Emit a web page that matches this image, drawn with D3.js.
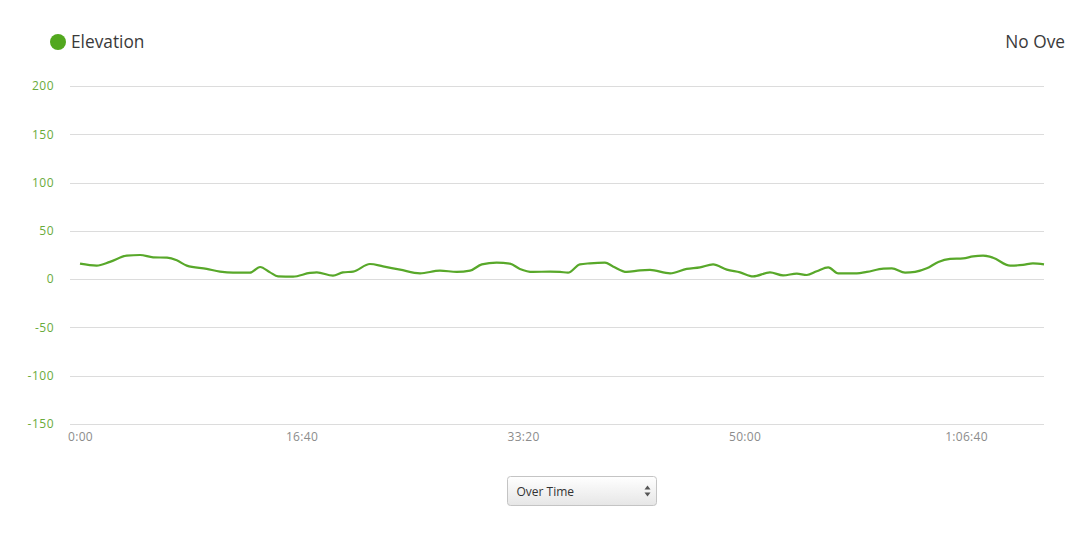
<!DOCTYPE html>
<html>
<head>
<meta charset="utf-8">
<script src="https://cdn.jsdelivr.net/npm/d3@7"></script>
<style>
  html, body { margin: 0; padding: 0; background: #fff; overflow: hidden; }
  svg { display: block; }
</style>
</head>
<body>
<svg id="chart" width="1068" height="545"></svg>
<script>
// ---- data ----
const seriesName = "Elevation";
const overlayLabel = "No Ove";
const dropdownLabel = "Over Time";
// elapsed time (seconds)
const times = [0,75,135,211,271,330,393,437,482,572,632,691,767,813,858,894,962,1038,1069,1142,1187,1233,1309,1368,1445,1535,1625,1701,1761,1814,1881,1941,1986,2045,2122,2167,2203,2257,2302,2370,2406,2468,2528,2573,2664,2739,2799,2858,2920,2980,3039,3115,3174,3236,3281,3326,3378,3423,3507,3552,3627,3665,3725,3770,3823,3875,3928,3987,4032,4077,4122,4199,4257,4302,4352];
// elevation (m)
const elevation = [16.0,14.0,17.9,24.3,25.0,22.6,22.2,19.5,14.0,10.6,7.8,6.7,6.7,12.6,7.0,2.9,2.6,6.4,7.0,3.6,7.0,7.8,15.7,13.2,9.8,6.0,8.8,7.5,8.8,15.3,17.1,16.0,10.6,7.5,7.8,7.5,6.7,15.3,16.4,17.1,13.2,7.5,9.1,9.5,6.0,10.6,12.2,15.3,9.8,7.0,2.9,7.0,3.9,5.7,4.3,8.1,12.2,6.0,6.0,7.5,10.9,11.2,6.7,7.5,11.2,17.8,20.9,21.5,23.6,24.3,22.2,14.0,14.7,16.4,15.3];
const yTicks = [-150,-100,-50,0,50,100,150,200];
const xTicks = [0,1000,2000,3000,4000];
const xTickLabels = ["0:00","16:40","33:20","50:00","1:06:40"];

const data = times.map((t,i)=>({t, v: elevation[i]}));

const svg = d3.select("#chart");
const green = "#58a82a";
const font = "'Open Sans', 'DejaVu Sans', sans-serif";

const gridLeft = 70, gridRight = 1044;
const x = d3.scaleLinear().domain([0, 4352]).range([80, 1044]);
const y = d3.scaleLinear().domain([-150, 200]).range([424, 86]);

// gridlines
svg.append("g").selectAll("line").data(yTicks).join("line")
  .attr("x1", gridLeft).attr("x2", gridRight)
  .attr("y1", d => Math.round(y(d)) + 0.5).attr("y2", d => Math.round(y(d)) + 0.5)
  .attr("stroke", "#dcdcdc").attr("stroke-width", 1);

// y axis labels
const yAxis = d3.axisLeft(y).tickValues(yTicks).tickSize(0).tickPadding(0).tickFormat(d => d);
const gy = svg.append("g").attr("transform", "translate(54,0)").call(yAxis);
gy.select(".domain").remove();
gy.selectAll("text").attr("fill", "#6aab3c").attr("font-size", 12)
  .attr("font-family", font).style("letter-spacing", "0.5px");

// x axis labels
const xAxis = d3.axisBottom(x).tickValues(xTicks).tickSize(0).tickPadding(0)
  .tickFormat((d,i) => xTickLabels[i]);
const gx = svg.append("g").attr("transform", "translate(0,432)").call(xAxis);
gx.select(".domain").remove();
gx.selectAll("text").attr("fill", "#8c8c8c").attr("font-size", 12)
  .attr("font-family", font).style("letter-spacing", "0.3px");

// line
const line = d3.line().x(d => x(d.t)).y(d => y(d.v)).curve(d3.curveMonotoneX);
svg.append("path").datum(data).attr("d", line)
  .attr("fill", "none").attr("stroke", green).attr("stroke-width", 2.2)
  .attr("stroke-linejoin", "round");

// legend
svg.append("circle").attr("cx", 58).attr("cy", 42).attr("r", 8).attr("fill", "#52a81e");
svg.append("text").attr("x", 71).attr("y", 48).text(seriesName)
  .attr("font-family", font).attr("font-size", 17.3).attr("fill", "#3a3a3a");
svg.append("text").attr("x", 1065).attr("y", 48).attr("text-anchor", "end").text(overlayLabel)
  .attr("font-family", font).attr("font-size", 17.3).attr("fill", "#3a3a3a");

// dropdown
const defs = svg.append("defs");
const grad = defs.append("linearGradient").attr("id", "ddgrad").attr("x1", 0).attr("y1", 0).attr("x2", 0).attr("y2", 1);
grad.append("stop").attr("offset", "0%").attr("stop-color", "#ffffff");
grad.append("stop").attr("offset", "100%").attr("stop-color", "#e6e6e6");
const dd = svg.append("g").attr("transform", "translate(507.5,476.5)");
dd.append("rect").attr("width", 149).attr("height", 29).attr("rx", 3)
  .attr("fill", "url(#ddgrad)").attr("stroke", "#c4c4c4");
dd.append("text").attr("x", 9).attr("y", 19).text(dropdownLabel)
  .attr("font-family", font).attr("font-size", 12).attr("fill", "#333");
dd.append("path").attr("d", "M137,13 L140,9 L143,13 Z").attr("fill", "#555");
dd.append("path").attr("d", "M137,16 L140,20 L143,16 Z").attr("fill", "#555");
</script>
</body>
</html>
